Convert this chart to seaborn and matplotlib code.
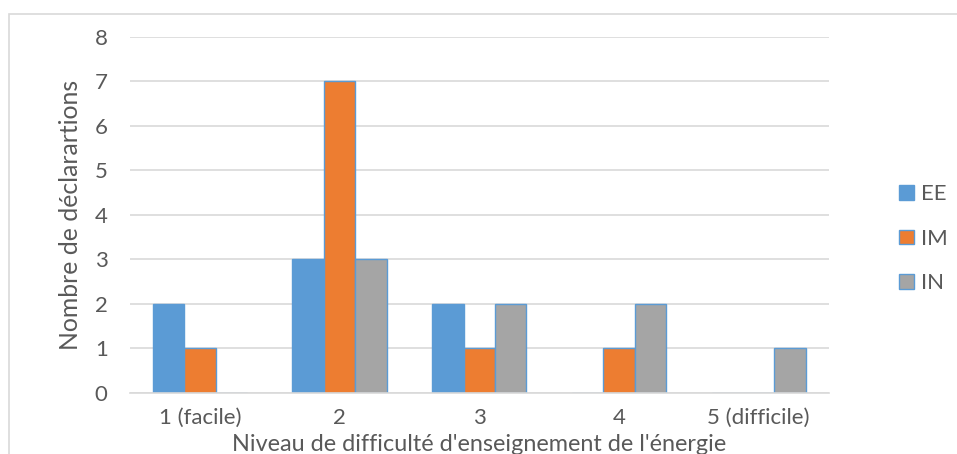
import pandas as pd
import seaborn as sns
from matplotlib import pyplot as plt
from matplotlib.patches import Patch, Rectangle

# Data
categories = ['1 (facile)', '2', '3', '4', '5 (difficile)']
series = ['EE', 'IM', 'IN']
ee_values = [2, 3, 2, 0, 0]
im_values = [1, 7, 1, 1, 0]
in_values = [0, 3, 2, 2, 1]
y_ticks = [0, 1, 2, 3, 4, 5, 6, 7, 8]

colors = {'EE': '#5B9BD5', 'IM': '#ED7D31', 'IN': '#A5A5A5'}
edge = '#5B9BD5'
text_col = '#595959'

df = pd.DataFrame({
    'Niveau': categories * 3,
    'Serie': ['EE'] * 5 + ['IM'] * 5 + ['IN'] * 5,
    'Nombre': ee_values + im_values + in_values,
})

sns.set_style('white')
plt.rcParams['font.family'] = ['Lato', 'DejaVu Sans']

fig = plt.figure(figsize=(9.57, 4.54), dpi=100)
ax = fig.add_axes([0.1358, 0.1344, 0.7300, 0.7841])

sns.barplot(data=df, x='Niveau', y='Nombre', hue='Serie', order=categories,
            hue_order=series, palette=colors, width=0.675, gap=0,
            edgecolor=edge, linewidth=1.0, saturation=1, legend=False, ax=ax)

# Grid and axes like the spreadsheet style
ax.set_ylim(0, 8)
ax.set_yticks(y_ticks)
ax.grid(axis='y', color='#D9D9D9', linewidth=1.2)
ax.set_axisbelow(True)
for s in ['top', 'right', 'left']:
    ax.spines[s].set_visible(False)
ax.spines['bottom'].set_color('#D9D9D9')
ax.spines['bottom'].set_linewidth(1.2)
ax.tick_params(axis='both', length=0, labelsize=16, colors=text_col)
ax.tick_params(axis='y', pad=16)
ax.tick_params(axis='x', pad=11)

ax.set_xlabel("Niveau de difficulté d'enseignement de l'énergie", fontsize=16.8, color=text_col, labelpad=4)
ax.set_ylabel('Nombre de déclarartions', fontsize=17.8, color=text_col)
ax.yaxis.set_label_coords(-0.0687, 0.5)

# Legend on the right
handles = [Patch(facecolor=colors[s], edgecolor=edge, linewidth=1.0, label=s) for s in series]
fig.legend(handles=handles, loc='center left', bbox_to_anchor=(0.919, 0.474), frameon=False,
           fontsize=16, labelcolor=text_col, handlelength=0.65, handleheight=0.65,
           handletextpad=0.3, labelspacing=1.1)

# Chart border
fig.patches.append(Rectangle((9 / 957, -0.1), 1.2, (454 - 14) / 454 + 0.1, transform=fig.transFigure,
                             fill=False, edgecolor='#D9D9D9', linewidth=1.2))

plt.savefig('out.png', dpi=100)
plt.close()
